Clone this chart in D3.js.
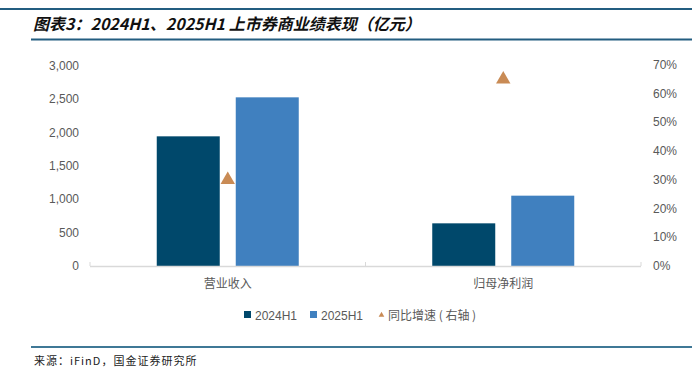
<!DOCTYPE html>
<html><head><meta charset="utf-8">
<script src="https://cdn.jsdelivr.net/npm/d3@7"></script>
<style>body{margin:0;background:#fff}svg{display:block}</style>
</head><body>
<svg id="c" width="700" height="376"></svg>
<script>
const categories = ["营业收入", "归母净利润"];
const seriesNames = ["2024H1", "2025H1"];
const values2024 = [1945, 640];
const values2025 = [2530, 1055];
const growth = [0.30, 0.65];
const leftTicks = [0, 500, 1000, 1500, 2000, 2500, 3000];
const rightTicks = [0, 0.1, 0.2, 0.3, 0.4, 0.5, 0.6, 0.7];
const colors = ["#00486b", "#4080bf"];
const triColor = "#c98b55";

const svg = d3.select("#c");
const font = "Liberation Sans, Arial, sans-serif";
const cjk = "'Noto Sans CJK SC', sans-serif";

// header / footer lines
svg.append("line").attr("x1",0).attr("x2",692).attr("y1",9).attr("y2",9).attr("stroke","#235d80").attr("stroke-width",2);
svg.append("line").attr("x1",31).attr("x2",692).attr("y1",39.5).attr("y2",39.5).attr("stroke","#235d80").attr("stroke-width",2);
svg.append("line").attr("x1",31).attr("x2",692).attr("y1",347).attr("y2",347).attr("stroke","#3f7896").attr("stroke-width",2);
svg.append("text").attr("x",33).attr("y",30).attr("font-family",cjk).attr("font-size",16).attr("font-weight","bold").attr("font-style","italic").attr("fill","#111")
  .text("图表3：2024H1、2025H1 上市券商业绩表现（亿元）");
svg.append("text").attr("x",34).attr("y",365).attr("font-family",cjk).attr("font-size",11).attr("fill","#222").attr("letter-spacing",1)
  .text("来源：iFinD，国金证券研究所");

const x0 = 90, x1 = 641, yTop = 66, yBot = 266;
const x = d3.scaleBand().domain(categories).range([x0, x1]);
const yL = d3.scaleLinear().domain([0, 3000]).range([yBot, yTop]);
const yR = d3.scaleLinear().domain([0, 0.7]).range([yBot, 65]);

// left axis labels
svg.append("g").selectAll("text").data(leftTicks).join("text")
  .attr("x",79).attr("y",d=>yL(d)+4).attr("text-anchor","end")
  .attr("font-family",font).attr("font-size",12).attr("fill","#595959")
  .text(d=>d3.format(",")(d));
svg.append("g").selectAll("text").data(rightTicks).join("text")
  .attr("x",653).attr("y",d=>yR(d)+4).attr("text-anchor","start")
  .attr("font-family",font).attr("font-size",12).attr("fill","#595959")
  .text(d=>d3.format(".0%")(d));

// bars
const bw = 63, gap = 16;
const data = categories.map((c,i)=>({c, v:[values2024[i], values2025[i]], g:growth[i]}));
const gBars = svg.append("g");
data.forEach(d=>{
  const cx = x(d.c) + x.bandwidth()/2;
  d.v.forEach((v,j)=>{
    const bx = j===0 ? cx - gap/2 - bw : cx + gap/2;
    gBars.append("rect").attr("x",bx).attr("y",yL(v)).attr("width",bw).attr("height",yBot-yL(v)).attr("fill",colors[j]);
  });
});

// axis line
svg.append("line").attr("x1",x0).attr("x2",x1).attr("y1",yBot+0.5).attr("y2",yBot+0.5).attr("stroke","#d9d9d9").attr("stroke-width",1.5);
[x0, x0 + x.bandwidth(), x1].forEach(t=>{
  svg.append("line").attr("x1",t).attr("x2",t).attr("y1",yBot-4).attr("y2",yBot).attr("stroke","#d9d9d9").attr("stroke-width",1);
});

// triangles
svg.append("g").selectAll("path").data(data).join("path")
  .attr("d", d3.symbol().type(d3.symbolTriangle).size(90))
  .attr("transform", d=>`translate(${x(d.c)+x.bandwidth()/2},${yR(d.g)})`)
  .attr("fill", triColor);

// category labels
svg.append("g").selectAll("text").data(categories).join("text")
  .attr("x",d=>x(d)+x.bandwidth()/2).attr("y",288).attr("text-anchor","middle")
  .attr("font-family",cjk).attr("font-size",12).attr("fill","#595959").text(d=>d);

// legend
const lg = svg.append("g").attr("font-family",font).attr("font-size",12).attr("fill","#595959");
[[244, 0, "2024H1"], [310, 1, "2025H1"]].forEach(([lx, j, t])=>{
  lg.append("rect").attr("x",lx).attr("y",311).attr("width",7).attr("height",7).attr("fill",colors[j]);
  lg.append("text").attr("x",lx+11).attr("y",320).text(seriesNames[j]);
});
lg.append("path").attr("d", d3.symbol().type(d3.symbolTriangle).size(14)).attr("transform","translate(381.5,315)").attr("fill",triColor);
lg.append("text").attr("x",388).attr("y",320).attr("font-family",cjk).text("同比增速 ( 右轴 )");
</script>
</body></html>
